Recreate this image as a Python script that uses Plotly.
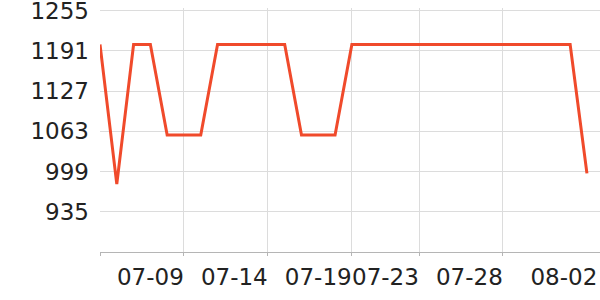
import plotly.graph_objects as go
import pandas as pd

dates = pd.date_range("2024-07-06", "2024-08-04", freq="D").strftime("%Y-%m-%d").tolist()
values = [1201, 979, 1201, 1201, 1057, 1057, 1057, 1201, 1201, 1201,
          1201, 1201, 1057, 1057, 1057, 1201, 1201, 1201, 1201, 1201,
          1201, 1201, 1201, 1201, 1201, 1201, 1201, 1201, 1201, 996]

x_label_dates = ["2024-07-09", "2024-07-14", "2024-07-19", "2024-07-23", "2024-07-28", "2024-08-02 15:00"]
x_label_text = ["07-09", "07-14", "07-19", "07-23", "07-28", "08-02"]
x_grid_dates = ["2024-07-06", "2024-07-11", "2024-07-16", "2024-07-21", "2024-07-25", "2024-07-30"]
y_ticks = [935, 999, 1063, 1127, 1191, 1255]
y_range = [871, 1259]
x_range = ["2024-07-06", "2024-08-04 18:40"]

fig = go.Figure()
fig.add_trace(go.Scatter(x=dates, y=values, mode="lines",
                         line=dict(color="#f04a2b", width=3),
                         hoverinfo="skip", cliponaxis=False))

font = dict(family="DejaVu Sans", size=23, color="#222222")
fig.update_layout(
    width=600, height=300,
    margin=dict(l=100, r=0, t=8, b=48, autoexpand=False),
    paper_bgcolor="white", plot_bgcolor="white",
    showlegend=False,
    font=font,
    xaxis=dict(
        type="date", range=x_range, automargin=False,
        tickmode="array", tickvals=x_label_dates, ticktext=x_label_text,
        tickangle=0, ticklabeloverflow="allow",
        showgrid=False, ticks="", zeroline=False,
        showline=True, linecolor="#b5b5b5", linewidth=1,
        tickfont=font, ticklabelstandoff=4,
        minor=dict(tickmode="array", tickvals=x_grid_dates, showgrid=True,
                   gridcolor="#dcdcdc", gridwidth=1,
                   ticks="outside", ticklen=3, tickcolor="#b5b5b5", tickwidth=1),
    ),
    yaxis=dict(
        range=y_range, tickmode="array", tickvals=y_ticks, automargin=False,
        ticklabeloverflow="allow",
        showgrid=True, gridcolor="#dcdcdc", gridwidth=1,
        zeroline=False, showline=False, ticks="",
        tickfont=font, ticklabelstandoff=10,
    ),
)
fig.write_html("out.html")
